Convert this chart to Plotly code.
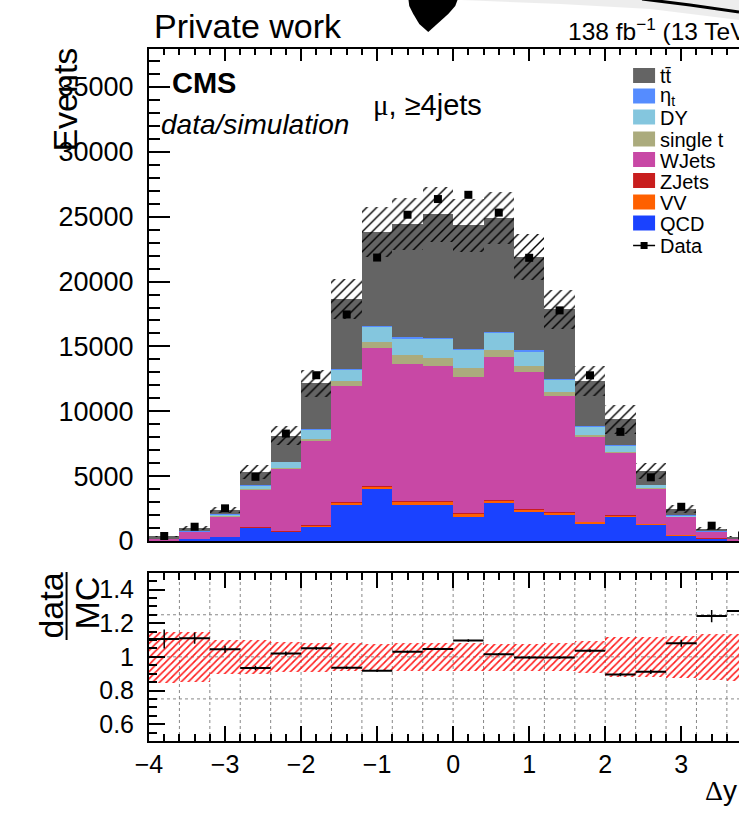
import numpy as np
import plotly.graph_objects as go

# ---- binning: 20 bins of width 0.4 between -4 and 4 ----
bin_centers = [-3.8, -3.4, -3.0, -2.6, -2.2, -1.8, -1.4, -1.0, -0.6, -0.2,
               0.2, 0.6, 1.0, 1.4, 1.8, 2.2, 2.6, 3.0, 3.4, 3.8]
bin_edges_inner = [-3.6, -3.2, -2.8, -2.4, -2.0, -1.6, -1.2, -0.8, -0.4, 0.0,
                   0.4, 0.8, 1.2, 1.6, 2.0, 2.4, 2.8, 3.2, 3.6]
bin_width = 0.4

# ---- simulated processes (events per bin), stacked bottom -> top ----
qcd      = [30, 170, 330, 1020, 720, 1100, 2850, 3975, 2770, 2770,
            1870, 2900, 2250, 2000, 1360, 1920, 1310, 460, 200, 30]
vv       = [2, 10, 10, 30, 30, 80, 130, 200, 250, 250,
            260, 250, 190, 180, 120, 40, 20, 10, 5, 2]
zjets    = [1, 3, 5, 10, 15, 20, 25, 30, 35, 35,
            35, 35, 30, 25, 20, 15, 10, 5, 3, 1]
wjets    = [169, 537, 1525, 2915, 4825, 6520, 8915, 10665, 10615, 10405,
            10475, 10995, 10550, 8945, 6480, 4865, 2710, 1395, 517, 164]
single_t = [3, 10, 20, 40, 60, 180, 390, 510, 640, 670,
            690, 570, 440, 340, 170, 30, 20, 10, 5, 3]
dy       = [20, 40, 160, 265, 450, 690, 890, 1180, 1330, 1460,
            1420, 1350, 1180, 950, 700, 510, 250, 120, 40, 20]
eta_t    = [2, 5, 10, 20, 20, 30, 40, 50, 50, 50,
            50, 50, 50, 40, 30, 20, 10, 5, 3, 2]
ttbar    = [123, 215, 350, 1000, 2000, 3540, 5440, 7220, 8730, 9540,
            9530, 8770, 7230, 5370, 3450, 2000, 1060, 435, 177, 108]

# ---- observed data ----
data = [387, 1100, 2518, 4950, 8282, 12780, 17466, 21852, 25153, 26363,
        26690, 25319, 21832, 17779, 12774, 8413, 4910, 2638, 1180, 420]

# ---- relative uncertainty of the total simulation ----
mc_rel_unc = [0.152, 0.150, 0.100, 0.100, 0.088, 0.087, 0.083, 0.080, 0.082, 0.085,
              0.085, 0.081, 0.081, 0.083, 0.095, 0.119, 0.120, 0.125, 0.135, 0.140]

processes = [
    ("QCD", qcd, "#1a42ff"),
    ("VV", vv, "#ff6000"),
    ("ZJets", zjets, "#c81e1e"),
    ("WJets", wjets, "#c848a5"),
    ("single t", single_t, "#abab7d"),
    ("DY", dy, "#84c6de"),
    ("\u03b7<sub>t</sub>", eta_t, "#558cff"),
    ("tt\u0304", ttbar, "#646464"),
]

FONT = "Liberation Sans, Arial, Helvetica, sans-serif"
W, H = 739, 816
L_PX, R_PX, T_PX, B_PX = 148.5, 739.0, 49.0, 741.0
PX_PER_UNIT = 76.1
x_range = [-4.0, -4.0 + (R_PX - L_PX) / PX_PER_UNIT]

MAIN_BOTTOM_PX = 541.0
RATIO_TOP_PX = 572.7
main_domain = [(B_PX - MAIN_BOTTOM_PX) / (B_PX - T_PX), 1.0]
ratio_domain = [0.0, (B_PX - RATIO_TOP_PX) / (B_PX - T_PX)]


def px(x):
    return (x - L_PX) / (R_PX - L_PX)


def py(y):
    return (B_PX - y) / (B_PX - T_PX)


fig = go.Figure()

# stacked simulation
base = np.zeros(len(bin_centers))
for name, vals, col in processes:
    v = np.array(vals, dtype=float)
    fig.add_trace(go.Bar(
        x=bin_centers, y=v, base=base.copy(), width=bin_width,
        marker=dict(color=col, line=dict(width=0)),
        xaxis="x", yaxis="y", showlegend=False, name=name))
    base = base + v

mc_total = base
mc_err = mc_total * np.array(mc_rel_unc)

# hatched uncertainty of the total simulation
fig.add_trace(go.Bar(
    x=bin_centers, y=2 * mc_err, base=mc_total - mc_err, width=bin_width,
    marker=dict(color="rgba(0,0,0,0)", line=dict(width=0),
                pattern=dict(shape="/", size=7, solidity=0.2,
                             fgcolor="black", bgcolor="rgba(0,0,0,0)",
                             fillmode="replace")),
    xaxis="x", yaxis="y", showlegend=False))

data_arr = np.array(data, dtype=float)
fig.add_trace(go.Scatter(
    x=bin_centers, y=data_arr, mode="markers",
    marker=dict(symbol="square", size=8, color="black"),
    error_y=dict(type="data", array=np.sqrt(data_arr), width=0,
                 thickness=1, color="black"),
    xaxis="x", yaxis="y", showlegend=False))

# ratio panel
ratio = data_arr / mc_total
ratio_err = np.sqrt(data_arr) / mc_total
rel = np.array(mc_rel_unc)

fig.add_trace(go.Bar(
    x=bin_centers, y=2 * rel, base=1 - rel, width=bin_width,
    marker=dict(color="rgba(0,0,0,0)", line=dict(width=0),
                pattern=dict(shape="/", size=5, solidity=0.33,
                             fgcolor="rgb(255,30,30)", bgcolor="rgba(0,0,0,0)",
                             fillmode="replace")),
    xaxis="x2", yaxis="y2", showlegend=False))

fig.add_trace(go.Scatter(
    x=bin_centers, y=ratio, mode="markers",
    marker=dict(size=2, color="black"),
    error_x=dict(type="constant", value=bin_width / 2, width=0,
                 thickness=2, color="black"),
    error_y=dict(type="data", array=ratio_err, width=0,
                 thickness=1.5, color="black"),
    xaxis="x2", yaxis="y2", showlegend=False))

shapes = []
# dotted grid of the ratio panel
for e in bin_edges_inner:
    shapes.append(dict(type="line", xref="x2", yref="y2 domain",
                       x0=e, x1=e, y0=0, y1=1, layer="below",
                       line=dict(color="#888888", width=1, dash="dot")))
for g in [0.75, 1.0, 1.25]:
    shapes.append(dict(type="line", xref="x2 domain", yref="y2",
                       x0=0, x1=1, y0=g, y1=g, layer="below",
                       line=dict(color="#888888", width=1, dash="dot")))

# fraction bar of the ratio axis title
shapes.append(dict(type="line", xref="paper", yref="paper",
                   x0=px(66), x1=px(66), y0=py(572), y1=py(640),
                   line=dict(color="black", width=2)))

annotations = []

# legend
leg_x0, leg_x1 = 633, 655
leg_rows = [75.5, 96.0, 117.0, 139.0, 159.5, 180.5, 202.0, 223.0]
for (name, vals, col), yc in zip(reversed(processes), leg_rows):
    shapes.append(dict(type="rect", xref="paper", yref="paper",
                       x0=px(leg_x0), x1=px(leg_x1),
                       y0=py(yc + 7.5), y1=py(yc - 7.5),
                       fillcolor=col, line=dict(width=0)))
    annotations.append(dict(text=name, x=px(658), y=py(yc + 1),
                            xref="paper", yref="paper", xanchor="left",
                            yanchor="middle", showarrow=False,
                            font=dict(family=FONT, size=20, color="black")))
data_row = 245.5
shapes.append(dict(type="line", xref="paper", yref="paper",
                   x0=px(leg_x0), x1=px(leg_x1), y0=py(data_row), y1=py(data_row),
                   line=dict(color="black", width=1.5)))
shapes.append(dict(type="rect", xref="paper", yref="paper",
                   x0=px(640.5), x1=px(647.5), y0=py(data_row + 3.5),
                   y1=py(data_row - 3.5), fillcolor="black", line=dict(width=0)))
annotations.append(dict(text="Data", x=px(658), y=py(data_row + 1),
                        xref="paper", yref="paper", xanchor="left",
                        yanchor="middle", showarrow=False,
                        font=dict(family=FONT, size=20, color="black")))


def txt(text, x, y, size, xanchor="left", angle=0, **kw):
    annotations.append(dict(text=text, x=px(x), y=py(y), xref="paper",
                            yref="paper", xanchor=xanchor, yanchor="middle",
                            showarrow=False, textangle=angle,
                            font=dict(family=FONT, size=size, color="black"),
                            **kw))


txt("Private work", 152, 26, 34)
txt("138 fb<sup>\u22121</sup> (13 TeV)", 566, 30, 24.5)
txt("<b>CMS</b>", 170, 83, 29)
txt("<i>data/simulation</i>", 159, 124, 28)
txt('<span style="font-family:Liberation Serif">\u03bc</span>, \u22654jets',
    371, 105, 29)
txt("Events", 64, 100, 34, xanchor="center", angle=-90)
txt("data", 50, 606, 34, xanchor="center", angle=-90)
txt("MC", 86, 603, 34, xanchor="center", angle=-90)
txt('<span style="font-family:Liberation Serif">\u0394</span>y', 703, 790, 28)

# marks drawn over the top margin
def path(points, close=True):
    s = "M " + " L ".join(f"{px(a):.5f},{py(b):.5f}" for a, b in points)
    return s + (" Z" if close else "")


shapes.append(dict(type="path", xref="paper", yref="paper",
                   path=path([(460, 0), (739, 0), (739, 20), (650, 9), (560, 4)]),
                   fillcolor="rgba(0,0,0,0.07)", line=dict(width=0)))
shapes.append(dict(type="path", xref="paper", yref="paper",
                   path=path([(408, -2), (458, -2), (455, 6), (448, 14), (438, 23),
                              (428, 32), (419, 24), (413, 14), (409, 6)]),
                   fillcolor="black", line=dict(width=0)))
shapes.append(dict(type="path", xref="paper", yref="paper",
                   path=path([(642, -1), (690, 5), (739, 12)], close=False),
                   line=dict(color="black", width=3)))

axis_common = dict(showgrid=False, zeroline=False, showline=True,
                   linecolor="black", linewidth=2, ticks="inside",
                   tickcolor="black", tickwidth=1.5)

fig.update_layout(
    width=W, height=H, autosize=False,
    margin=dict(l=L_PX, r=0, t=T_PX, b=H - B_PX, pad=0),
    paper_bgcolor="white", plot_bgcolor="white",
    barmode="overlay", bargap=0,
    showlegend=False,
    font=dict(family=FONT, color="black"),
    xaxis=dict(domain=[0, 1], range=x_range, anchor="y", side="top",
               showticklabels=False, tick0=-4, dtick=1, ticklen=12,
               mirror=True,
               minor=dict(ticks="inside", ticklen=6, tick0=-4, dtick=0.2,
                          tickcolor="black", tickwidth=1.5),
               **axis_common),
    yaxis=dict(domain=main_domain, range=[0, 37930], anchor="x",
               tick0=0, dtick=5000, ticklen=21, tickformat="d",
               tickfont=dict(family=FONT, size=27), ticklabelstandoff=8,
               minor=dict(ticks="inside", ticklen=11, tick0=0, dtick=1000,
                          tickcolor="black", tickwidth=1.5),
               **axis_common),
    xaxis2=dict(domain=[0, 1], range=x_range, anchor="y2",
                tick0=-4, dtick=1, ticklen=15, mirror="ticks",
                tickfont=dict(family=FONT, size=25), ticklabelstandoff=0,
                minor=dict(ticks="inside", ticklen=7.5, tick0=-4, dtick=0.2,
                           tickcolor="black", tickwidth=1.5),
                **axis_common),
    yaxis2=dict(domain=ratio_domain, range=[0.5, 1.5], anchor="x2",
                tick0=0.6, dtick=0.2, ticklen=16,
                tickfont=dict(family=FONT, size=25), ticklabelstandoff=8,
                minor=dict(ticks="inside", ticklen=8, tick0=0.5, dtick=0.05,
                           tickcolor="black", tickwidth=1.5),
                **axis_common),
    shapes=shapes,
    annotations=annotations,
)

fig.write_html("out.html")
